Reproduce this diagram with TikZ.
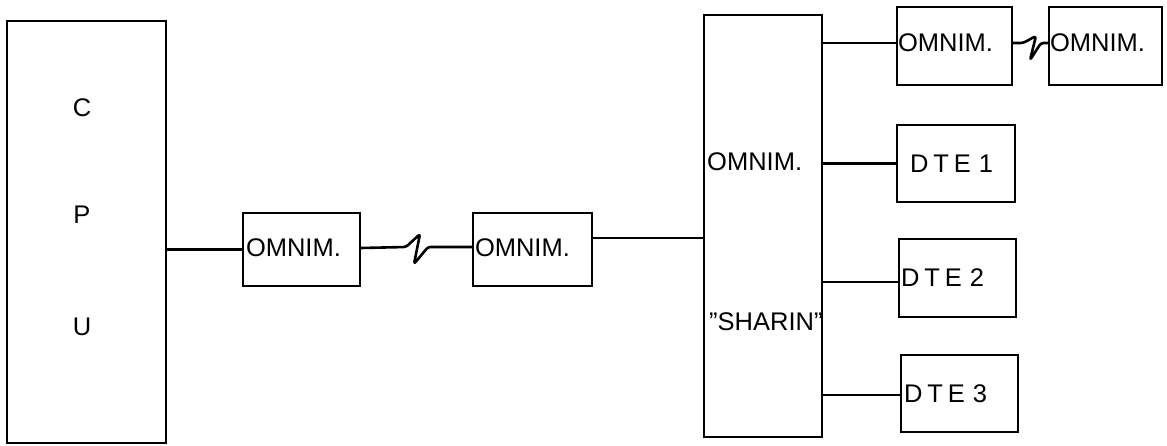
\documentclass[tikz,border=0pt]{standalone}
\usepackage{fontspec}
\setmainfont{Liberation Sans}
\begin{document}
\begin{tikzpicture}[x=1pt,y=-1pt,
  box/.style={draw,line width=2.4pt,minimum width=#1,inner sep=0pt},
  wire/.style={line width=2.2pt,line join=round},
  zig/.style={wire,line width=2.6pt,rounded corners=2.5pt},
  txt/.style={font=\fontsize{25.5}{28}\selectfont,inner sep=0pt,anchor=west},
  lbl/.style={font=\fontsize{25.5}{28}\selectfont,inner sep=0pt}]
\useasboundingbox (0,0) rectangle (1167,446);
% boxes
\node[box=159pt,minimum height=422pt] (cpu) at (86.5,232) {};
\node[box=117pt,minimum height=73pt] (b1) at (301.5,249.5) {};
\node[box=119pt,minimum height=73pt] (b2) at (532.5,249.5) {};
\node[box=118pt,minimum height=422pt] (sh) at (763,226) {};
\node[box=115pt,minimum height=78pt] (t1) at (954.5,46) {};
\node[box=113pt,minimum height=78pt] (t2) at (1105.5,46) {};
\node[box=118pt,minimum height=77pt] (d1) at (956,163.5) {};
\node[box=117pt,minimum height=78pt] (d2) at (957.5,278) {};
\node[box=117pt,minimum height=77pt] (d3) at (959.5,393.5) {};
% texts
\node[lbl] (lc) at (82,108) {C};
\node[lbl] (lp) at (82,215) {P};
\node[lbl] (lu) at (82,327) {U};
\node[txt] (b1t) at ([xshift=4pt,yshift=2pt]b1.west) {OMNIM.};
\node[txt] (b2t) at ([xshift=3pt,yshift=2pt]b2.west) {OMNIM.};
\node[txt] (sht) at (707,162) {OMNIM.};
\node[txt] (sht2) at (709,322) {"SHARIN"};
\node[txt] (t1t) at ([xshift=2pt,yshift=3pt]t1.west) {OMNIM.};
\node[txt] (t2t) at ([xshift=2pt,yshift=3pt]t2.west) {OMNIM.};
\node[txt] (d1t) at ([xshift=14pt]d1.west) {D\hspace{5pt}T\hspace{5pt}E\hspace{8pt}1};
\node[txt] (d2t) at ([xshift=3pt]d2.west) {D\hspace{5pt}T\hspace{5pt}E\hspace{8pt}2};
\node[txt] (d3t) at ([xshift=4pt]d3.west) {D\hspace{5pt}T\hspace{5pt}E\hspace{8pt}3};
% connectors
\draw[wire] (b1.west) -- (b1.west -| cpu.east);
\coordinate (z1a) at (406,247);
\coordinate (z1b) at (420,234);
\coordinate (z1c) at (414,264);
\coordinate (z1d) at (428,247);
\draw[zig] ([yshift=1.5pt]b1.east) -- (z1a) -- (z1b) -- (z1c) -- (z1d) -- ([yshift=2.5pt]b2.west);
\draw[wire] ([yshift=11.5pt]b2.east) -- ([yshift=11.5pt]b2.east -| sh.west);
\draw[wire] ([yshift=3pt]t1.west) -- ([yshift=3pt]t1.west -| sh.east);
\coordinate (z2a) at (1023,43);
\coordinate (z2b) at (1036,36);
\coordinate (z2c) at (1030,60);
\coordinate (z2d) at (1041,43);
\draw[zig] ([yshift=3pt]t1.east) -- (z2a) -- (z2b) -- (z2c) -- (z2d) -- ([yshift=3pt]t2.west);
\draw[wire] (d1.west) -- (d1.west -| sh.east);
\draw[wire] ([yshift=-4pt]d2.west) -- ([yshift=-4pt]d2.west -| sh.east);
\draw[wire] ([yshift=-1.5pt]d3.west) -- ([yshift=-1.5pt]d3.west -| sh.east);
\end{tikzpicture}
\end{document}
